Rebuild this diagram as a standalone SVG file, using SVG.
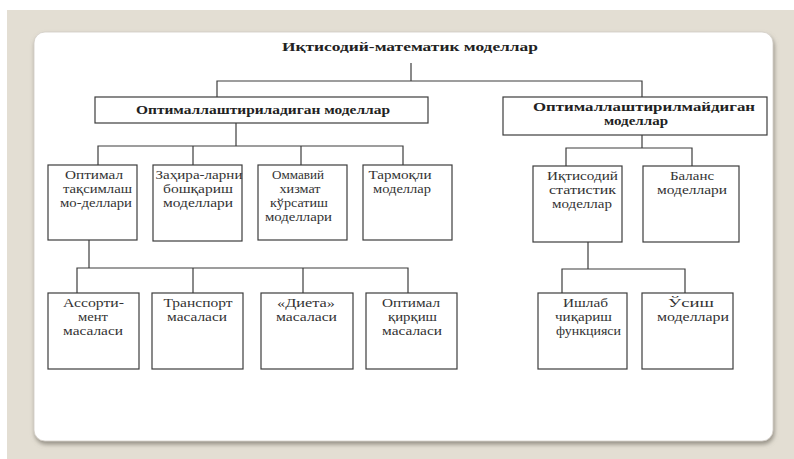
<svg xmlns="http://www.w3.org/2000/svg" width="794" height="459" viewBox="0 0 794 459">
  <defs>
    <filter id="cardShadow" x="-5%" y="-5%" width="110%" height="115%">
      <feGaussianBlur in="SourceAlpha" stdDeviation="2"/>
      <feOffset dx="1" dy="3" result="b"/>
      <feFlood flood-color="#7d786e" flood-opacity="0.75"/>
      <feComposite in2="b" operator="in"/>
      <feMerge>
        <feMergeNode/>
        <feMergeNode in="SourceGraphic"/>
      </feMerge>
    </filter>
    <style>
      .box { fill: #ffffff; stroke: #3c3c3c; stroke-width: 1.2; }
      .wire { fill: none; stroke: #3c3c3c; stroke-width: 1.2; }
      .lbl { font-family: "Liberation Serif", "Times New Roman", serif; font-size: 12.5px; fill: #333333; text-anchor: middle; }
      .hdr { font-family: "Liberation Serif", "Times New Roman", serif; font-size: 12.5px; font-weight: bold; fill: #222222; text-anchor: middle; }
    </style>
  </defs>

  <!-- backdrop and card -->
  <rect x="0" y="0" width="794" height="459" fill="#ffffff"/>
  <rect x="7" y="10" width="787" height="449" fill="#e3ded3"/>
  <rect x="34" y="32" width="739" height="409" rx="11" ry="11" fill="#ffffff" stroke="#d0ccc4" stroke-width="0.8" filter="url(#cardShadow)"/>

  <!-- connectors -->
  <g id="connectors">
    <polyline class="wire" points="411,63 411,81"/>
    <polyline class="wire" points="217,97 217,81 642,81 642,97"/>
    <polyline class="wire" points="236,123 236,146"/>
    <polyline class="wire" points="98,165 98,146 403,146 403,165"/>
    <polyline class="wire" points="193,146 193,165"/>
    <polyline class="wire" points="301,146 301,165"/>
    <polyline class="wire" points="89,240 89,268"/>
    <polyline class="wire" points="77,293 77,268 408,268 408,293"/>
    <polyline class="wire" points="193,268 193,293"/>
    <polyline class="wire" points="303,268 303,293"/>
    <polyline class="wire" points="642,135 642,148"/>
    <polyline class="wire" points="566,166 566,148 692,148 692,166"/>
    <polyline class="wire" points="588,242 588,269"/>
    <polyline class="wire" points="562,293 562,269 685,269 685,293"/>
  </g>

  <!-- root title -->
  <g id="root">
    <text class="hdr" x="410" y="51" textLength="256" lengthAdjust="spacingAndGlyphs">Иқтисодий-математик  моделлар</text>
  </g>

  <!-- first level -->
  <g id="optimized">
    <rect class="box" x="95" y="97" width="333" height="26"/>
    <text class="hdr" x="263" y="114" textLength="254" lengthAdjust="spacingAndGlyphs">Оптималлаштириладиган  моделлар</text>
  </g>
  <g id="non-optimized">
    <rect class="box" x="503" y="97" width="264" height="38"/>
    <text class="hdr" x="644" y="111" textLength="222" lengthAdjust="spacingAndGlyphs">Оптималлаштирилмайдиган</text>
    <text class="hdr" x="636" y="125" textLength="64" lengthAdjust="spacingAndGlyphs">моделлар</text>
  </g>

  <!-- second level, left branch -->
  <g id="distribution">
    <rect class="box" x="48" y="165" width="89" height="75"/>
    <text class="lbl" x="94" y="179" textLength="58" lengthAdjust="spacingAndGlyphs">Оптимал</text>
    <text class="lbl" x="97.5" y="193" textLength="69" lengthAdjust="spacingAndGlyphs">тақсимлаш</text>
    <text class="lbl" x="96" y="207" textLength="72" lengthAdjust="spacingAndGlyphs">мо-деллари</text>
  </g>
  <g id="inventory">
    <rect class="box" x="153" y="165" width="89" height="76"/>
    <text class="lbl" x="199" y="179" textLength="87" lengthAdjust="spacingAndGlyphs">Заҳира-ларни</text>
    <text class="lbl" x="198" y="193" textLength="70" lengthAdjust="spacingAndGlyphs">бошқариш</text>
    <text class="lbl" x="198" y="207" textLength="70" lengthAdjust="spacingAndGlyphs">моделлари</text>
  </g>
  <g id="queueing">
    <rect class="box" x="258" y="165" width="89" height="75"/>
    <text class="lbl" x="298" y="179" textLength="52" lengthAdjust="spacingAndGlyphs">Оммавий</text>
    <text class="lbl" x="300" y="193" textLength="41" lengthAdjust="spacingAndGlyphs">хизмат</text>
    <text class="lbl" x="299" y="207" textLength="58" lengthAdjust="spacingAndGlyphs">кўрсатиш</text>
    <text class="lbl" x="298.5" y="221" textLength="67" lengthAdjust="spacingAndGlyphs">моделлари</text>
  </g>
  <g id="network">
    <rect class="box" x="363" y="165" width="89" height="75"/>
    <text class="lbl" x="400" y="179" textLength="63" lengthAdjust="spacingAndGlyphs">Тармоқли</text>
    <text class="lbl" x="402" y="193" textLength="58" lengthAdjust="spacingAndGlyphs">моделлар</text>
  </g>

  <!-- second level, right branch -->
  <g id="econ-statistical">
    <rect class="box" x="533" y="166" width="89" height="76"/>
    <text class="lbl" x="582.5" y="180" textLength="71" lengthAdjust="spacingAndGlyphs">Иқтисодий</text>
    <text class="lbl" x="582.5" y="194" textLength="67" lengthAdjust="spacingAndGlyphs">статистик</text>
    <text class="lbl" x="582" y="208" textLength="60" lengthAdjust="spacingAndGlyphs">моделлар</text>
  </g>
  <g id="balance">
    <rect class="box" x="643" y="166" width="96" height="76"/>
    <text class="lbl" x="692" y="180" textLength="44" lengthAdjust="spacingAndGlyphs">Баланс</text>
    <text class="lbl" x="692" y="194" textLength="70" lengthAdjust="spacingAndGlyphs">моделлари</text>
  </g>

  <!-- third level, left branch -->
  <g id="assortment">
    <rect class="box" x="48" y="293" width="91" height="76"/>
    <text class="lbl" x="93.5" y="307" textLength="61" lengthAdjust="spacingAndGlyphs">Ассорти-</text>
    <text class="lbl" x="93" y="321" textLength="30" lengthAdjust="spacingAndGlyphs">мент</text>
    <text class="lbl" x="93" y="335" textLength="60" lengthAdjust="spacingAndGlyphs">масаласи</text>
  </g>
  <g id="transport">
    <rect class="box" x="152" y="293" width="91" height="76"/>
    <text class="lbl" x="198" y="307" textLength="69" lengthAdjust="spacingAndGlyphs">Транспорт</text>
    <text class="lbl" x="197" y="321" textLength="60" lengthAdjust="spacingAndGlyphs">масаласи</text>
  </g>
  <g id="diet">
    <rect class="box" x="261" y="293" width="92" height="76"/>
    <text class="lbl" x="306" y="307" textLength="58" lengthAdjust="spacingAndGlyphs">«Диета»</text>
    <text class="lbl" x="306.5" y="321" textLength="61" lengthAdjust="spacingAndGlyphs">масаласи</text>
  </g>
  <g id="cutting">
    <rect class="box" x="366" y="293" width="91" height="76"/>
    <text class="lbl" x="411" y="307" textLength="58" lengthAdjust="spacingAndGlyphs">Оптимал</text>
    <text class="lbl" x="412.5" y="321" textLength="49" lengthAdjust="spacingAndGlyphs">қирқиш</text>
    <text class="lbl" x="412" y="335" textLength="60" lengthAdjust="spacingAndGlyphs">масаласи</text>
  </g>

  <!-- third level, right branch -->
  <g id="production">
    <rect class="box" x="538" y="293" width="89" height="76"/>
    <text class="lbl" x="585.5" y="307" textLength="45" lengthAdjust="spacingAndGlyphs">Ишлаб</text>
    <text class="lbl" x="583.5" y="321" textLength="57" lengthAdjust="spacingAndGlyphs">чиқариш</text>
    <text class="lbl" x="588.5" y="335" textLength="65" lengthAdjust="spacingAndGlyphs">функцияси</text>
  </g>
  <g id="growth">
    <rect class="box" x="642" y="293" width="91" height="76"/>
    <text class="lbl" x="691" y="307" textLength="46" lengthAdjust="spacingAndGlyphs">Ўсиш</text>
    <text class="lbl" x="693" y="321" textLength="72" lengthAdjust="spacingAndGlyphs">моделлари</text>
  </g>
</svg>
